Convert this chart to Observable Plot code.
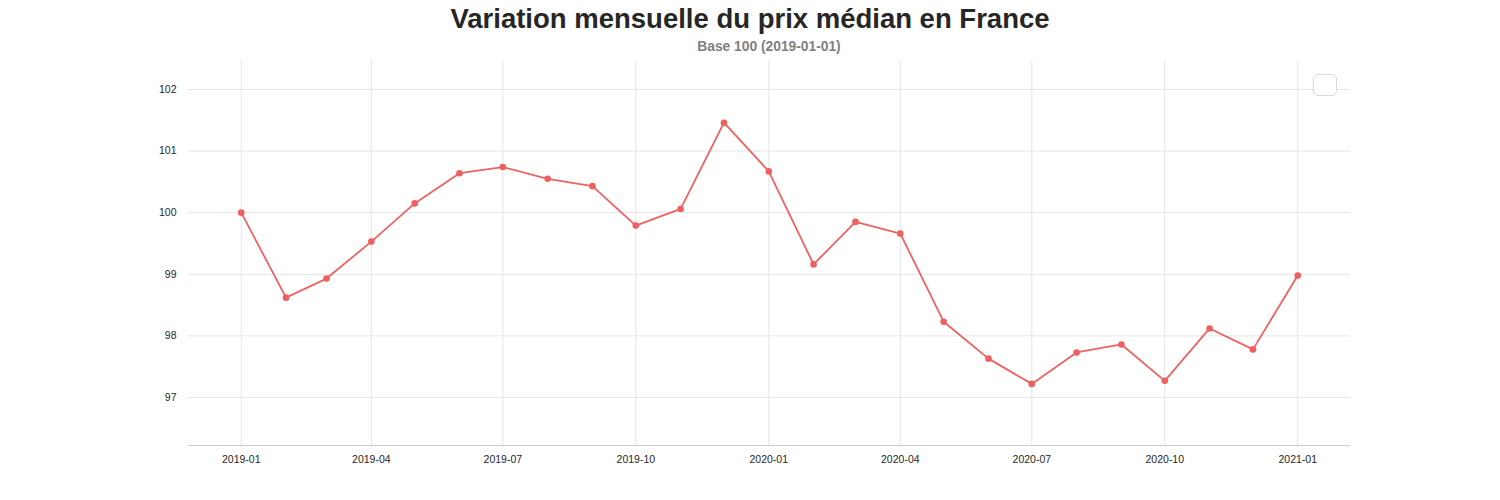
<!DOCTYPE html>
<html>
<head>
<meta charset="utf-8">
<script src="https://cdn.jsdelivr.net/npm/d3@7"></script>
<script src="https://cdn.jsdelivr.net/npm/@observablehq/plot@0.6"></script>
<style>
  html, body { margin: 0; padding: 0; background: #fff; }
  #wrap { position: relative; width: 1500px; height: 500px; font-family: "Liberation Sans", Arial, sans-serif; }
  #title { position: absolute; left: 0; width: 1500px; top: 3px; text-align: center; font-size: 27.5px; font-weight: bold; color: #262626; }
  #subtitle { position: absolute; left: 188px; width: 1162px; top: 39px; text-align: center; font-size: 13.8px; font-weight: bold; color: #808080; }
  #chart { position: absolute; left: 0; top: 55px; }
  #legendbox { position: absolute; left: 1313px; top: 74px; width: 22px; height: 20px; border: 1.3px solid #d9d9d9; border-radius: 5px; background: #fff; }
</style>
</head>
<body>
<div id="wrap">
  <div id="title">Variation mensuelle du prix médian en France</div>
  <div id="subtitle">Base 100 (2019-01-01)</div>
  <div id="chart"></div>
  <div id="legendbox"></div>
</div>
<script>
const months = ["2019-01","2019-02","2019-03","2019-04","2019-05","2019-06","2019-07","2019-08","2019-09","2019-10","2019-11","2019-12",
                "2020-01","2020-02","2020-03","2020-04","2020-05","2020-06","2020-07","2020-08","2020-09","2020-10","2020-11","2020-12",
                "2021-01"];
const values = [100.0, 98.62, 98.93, 99.53, 100.15, 100.64, 100.74, 100.55, 100.43, 99.79, 100.06, 101.46,
                100.67, 99.16, 99.85, 99.66, 98.23, 97.63, 97.22, 97.73, 97.86, 97.27, 98.12, 97.78,
                98.98];
const xTickLabels = ["2019-01","2019-04","2019-07","2019-10","2020-01","2020-04","2020-07","2020-10","2021-01"];
const yTicks = [97, 98, 99, 100, 101, 102];

const parse = d3.utcParse("%Y-%m");
const data = months.map((m, i) => ({date: parse(m), value: values[i]}));
const xTicks = xTickLabels.map(parse);

const chart = Plot.plot({
  width: 1500,
  height: 445,
  marginTop: 5,
  marginBottom: 55,
  marginLeft: 188,
  marginRight: 150,
  style: {fontFamily: "'Liberation Sans', Arial, sans-serif", fontSize: "10.5px", color: "#262626", background: "#fff"},
  x: {type: "utc", domain: [new Date(Date.UTC(2018, 10, 25, 12)), new Date(Date.UTC(2021, 1, 6, 12))]},
  y: {domain: [96.22, 102.47]},
  marks: [
    Plot.gridX(xTicks, {stroke: "#e5e5e5", strokeOpacity: 1, strokeWidth: 1}),
    Plot.gridY(yTicks, {stroke: "#e5e5e5", strokeOpacity: 1, strokeWidth: 1}),
    Plot.axisX(xTicks, {tickSize: 0, tickPadding: 10, tickFormat: d3.utcFormat("%Y-%m"), label: null, fontSize: 10.5}),
    Plot.axisY(yTicks, {tickSize: 0, tickPadding: 12, tickFormat: d => String(d), label: null, fontSize: 10.5}),
    Plot.ruleY([96.22], {stroke: "#cccccc", strokeWidth: 1.2}),
    Plot.line(data, {x: "date", y: "value", stroke: "#ef6262", strokeWidth: 1.8}),
    Plot.dot(data, {x: "date", y: "value", fill: "#ef5f5f", r: 3.3, stroke: "none"})
  ]
});
document.getElementById("chart").appendChild(chart);
</script>
</body>
</html>
